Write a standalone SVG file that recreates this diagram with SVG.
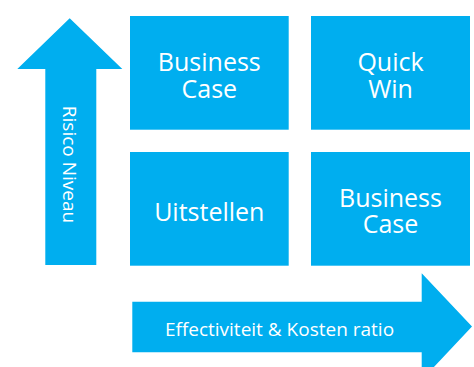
<svg xmlns="http://www.w3.org/2000/svg" width="474" height="367" viewBox="0 0 474 367">
<style>
.sh{fill:#00AEEF}
.t{fill:#fff;font-family:"Open Sans","Noto Sans",sans-serif;text-anchor:middle}
.big{font-size:25px}
.sm{font-size:19px}
</style>
<rect width="474" height="367" fill="#fff"/>
<g id="connectors">
<g id="arrow-risico">
<polygon class="sh" points="69.7,18.3 122.3,69 96.3,69 96.3,265 45.3,265 45.3,69 17.3,69"/>
<text class="t sm" transform="translate(63,164.5) rotate(90)">Risico Niveau</text>
</g>
<g id="arrow-effectiviteit">
<polygon class="sh" points="132.3,301.7 421.7,301.7 421.7,273.3 472,326.5 421.7,380 421.7,352.3 132.3,352.3"/>
<text class="t sm" x="279.5" y="335.5">Effectiviteit &amp; Kosten ratio</text>
</g>
</g>
<g id="node-business-case-1">
<rect class="sh" x="130" y="16" width="158.7" height="113.7"/>
<text class="t big"><tspan x="209.3" y="70.7">Business</tspan><tspan x="209.3" y="97.7">Case</tspan></text>
</g>
<g id="node-quick-win">
<rect class="sh" x="311" y="16" width="159" height="113.7"/>
<text class="t big"><tspan x="390.5" y="70.7">Quick</tspan><tspan x="390.5" y="97.7">Win</tspan></text>
</g>
<g id="node-uitstellen">
<rect class="sh" x="130" y="152" width="158.7" height="113.7"/>
<text class="t big" x="209.3" y="220.7">Uitstellen</text>
</g>
<g id="node-business-case-2">
<rect class="sh" x="311" y="152" width="159" height="113.7"/>
<text class="t big"><tspan x="390.5" y="207.3">Business</tspan><tspan x="390.5" y="233.3">Case</tspan></text>
</g>
</svg>
